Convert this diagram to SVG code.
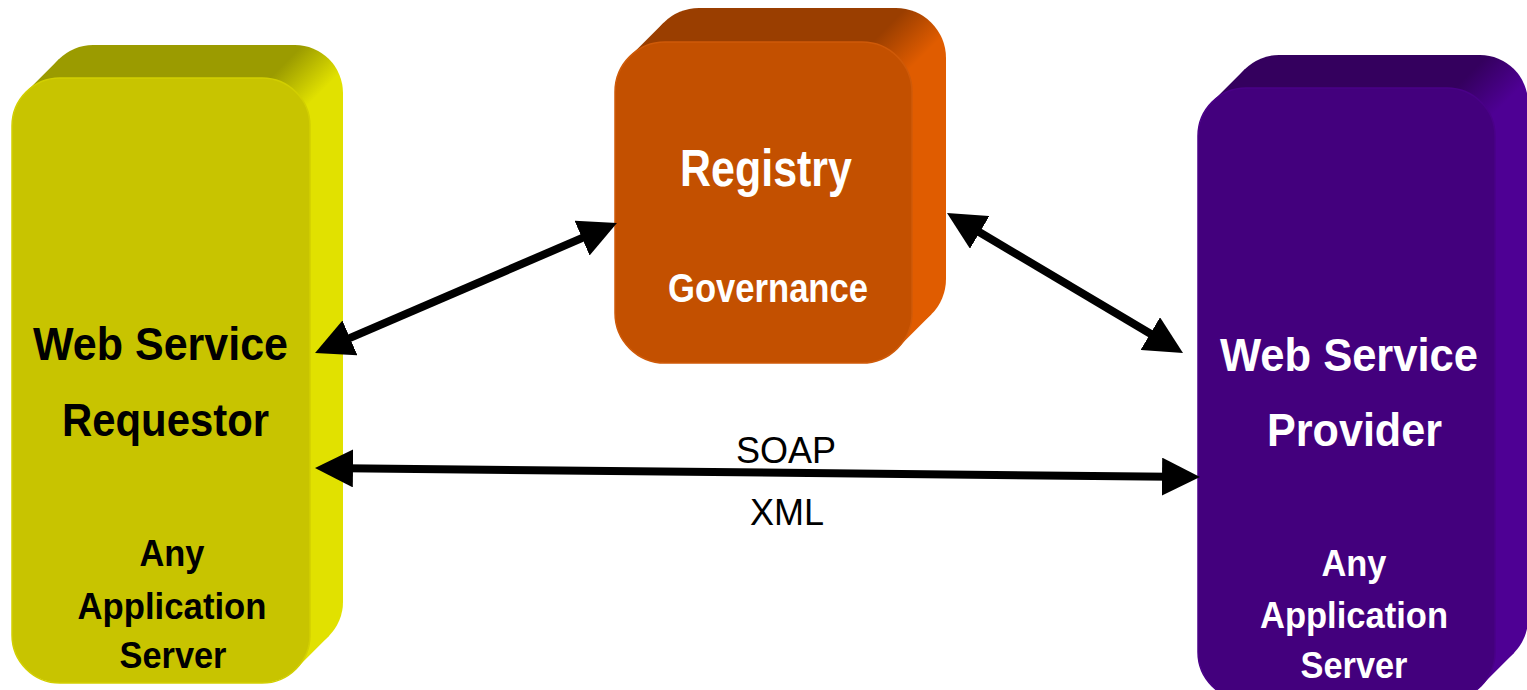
<svg xmlns="http://www.w3.org/2000/svg" width="1527" height="690" viewBox="0 0 1527 690">
  <style>
    text { font-family: "Liberation Sans", Arial, sans-serif; text-anchor: middle; }
    .big { font-size: 46px; font-weight: bold; }
    .small { font-size: 36px; font-weight: bold; }
    .label { font-size: 36px; fill: #000; }
    .dark { fill: #000; }
    .light { fill: #fff; }
    .conn { stroke: #000; stroke-width: 8; fill: none; marker-start: url(#ah); marker-end: url(#ah); }
  </style>
  <defs>
    <marker id="ah" viewBox="0 0 38 38" refX="8" refY="19" markerWidth="38" markerHeight="38" markerUnits="userSpaceOnUse" orient="auto-start-reverse">
      <path d="M0,0 L38,19 L0,38 Z" fill="#000"/>
    </marker>
    <linearGradient id="gy" gradientUnits="userSpaceOnUse" x1="174" y1="174" x2="206.5" y2="206.5">
      <stop offset="0" stop-color="#9b9b00"/>
      <stop offset="1" stop-color="#e1e100"/>
    </linearGradient>
    <linearGradient id="go" gradientUnits="userSpaceOnUse" x1="457" y1="457" x2="489.5" y2="489.5">
      <stop offset="0" stop-color="#9a3e00"/>
      <stop offset="1" stop-color="#e05c00"/>
    </linearGradient>
    <linearGradient id="gp" gradientUnits="userSpaceOnUse" x1="771.5" y1="771.5" x2="804" y2="804">
      <stop offset="0" stop-color="#34005e"/>
      <stop offset="1" stop-color="#4e0094"/>
    </linearGradient>
  </defs>

  <g id="requestor">
    <rect x="45" y="45" width="298" height="605" rx="48" fill="url(#gy)"/>
    <polygon points="26.1,92.1 59.1,59.1 328.9,635.9 295.9,668.9" fill="url(#gy)"/>
    <rect x="12" y="78" width="298" height="605" rx="48" fill="#c8c400" stroke="#d2cf00" stroke-width="1.5"/>
    <text class="big dark" x="160.5" y="360" textLength="255" lengthAdjust="spacingAndGlyphs">Web Service</text>
    <text class="big dark" x="165.5" y="436" textLength="207" lengthAdjust="spacingAndGlyphs">Requestor</text>
    <text class="small dark" x="172" y="566" textLength="65" lengthAdjust="spacingAndGlyphs">Any</text>
    <text class="small dark" x="172" y="619" textLength="189" lengthAdjust="spacingAndGlyphs">Application</text>
    <text class="small dark" x="173" y="668" textLength="107" lengthAdjust="spacingAndGlyphs">Server</text>
  </g>

  <g id="registry">
    <rect x="649" y="8" width="297" height="321" rx="50" fill="url(#go)"/>
    <polygon points="629.65,56.65 663.65,22.65 931.35,314.35 897.35,348.35" fill="url(#go)"/>
    <rect x="615" y="42" width="297" height="321" rx="50" fill="#c35000" stroke="#cf5a08" stroke-width="1.5"/>
    <text class="light" x="766" y="186" font-size="52" font-weight="bold" textLength="172" lengthAdjust="spacingAndGlyphs">Registry</text>
    <text class="light" x="768" y="302" font-size="40" font-weight="bold" textLength="200" lengthAdjust="spacingAndGlyphs">Governance</text>
  </g>

  <g id="provider">
    <rect x="1231" y="55" width="297" height="612" rx="48" fill="url(#gp)"/>
    <polygon points="1212.06,102.06 1245.06,69.06 1513.94,652.94 1480.94,685.94" fill="url(#gp)"/>
    <rect x="1198" y="88" width="297" height="612" rx="48" fill="#43007d" stroke="#4a0088" stroke-width="1.5"/>
    <text class="big light" x="1349" y="371" textLength="258" lengthAdjust="spacingAndGlyphs">Web Service</text>
    <text class="big light" x="1354.5" y="446" textLength="175" lengthAdjust="spacingAndGlyphs">Provider</text>
    <text class="small light" x="1354" y="576" textLength="65" lengthAdjust="spacingAndGlyphs">Any</text>
    <text class="small light" x="1354" y="628" textLength="188" lengthAdjust="spacingAndGlyphs">Application</text>
    <text class="small light" x="1354" y="678" textLength="107" lengthAdjust="spacingAndGlyphs">Server</text>
  </g>

  <g id="connectors">
    <line class="conn" x1="342.6" y1="341.1" x2="589.4" y2="234.9"/>
    <line class="conn" x1="972.8" y1="228.3" x2="1157.2" y2="337.7"/>
    <line class="conn" x1="345" y1="468.3" x2="1170" y2="476.7"/>
    <text class="label" x="786" y="463">SOAP</text>
    <text class="label" x="787" y="525">XML</text>
  </g>
</svg>
